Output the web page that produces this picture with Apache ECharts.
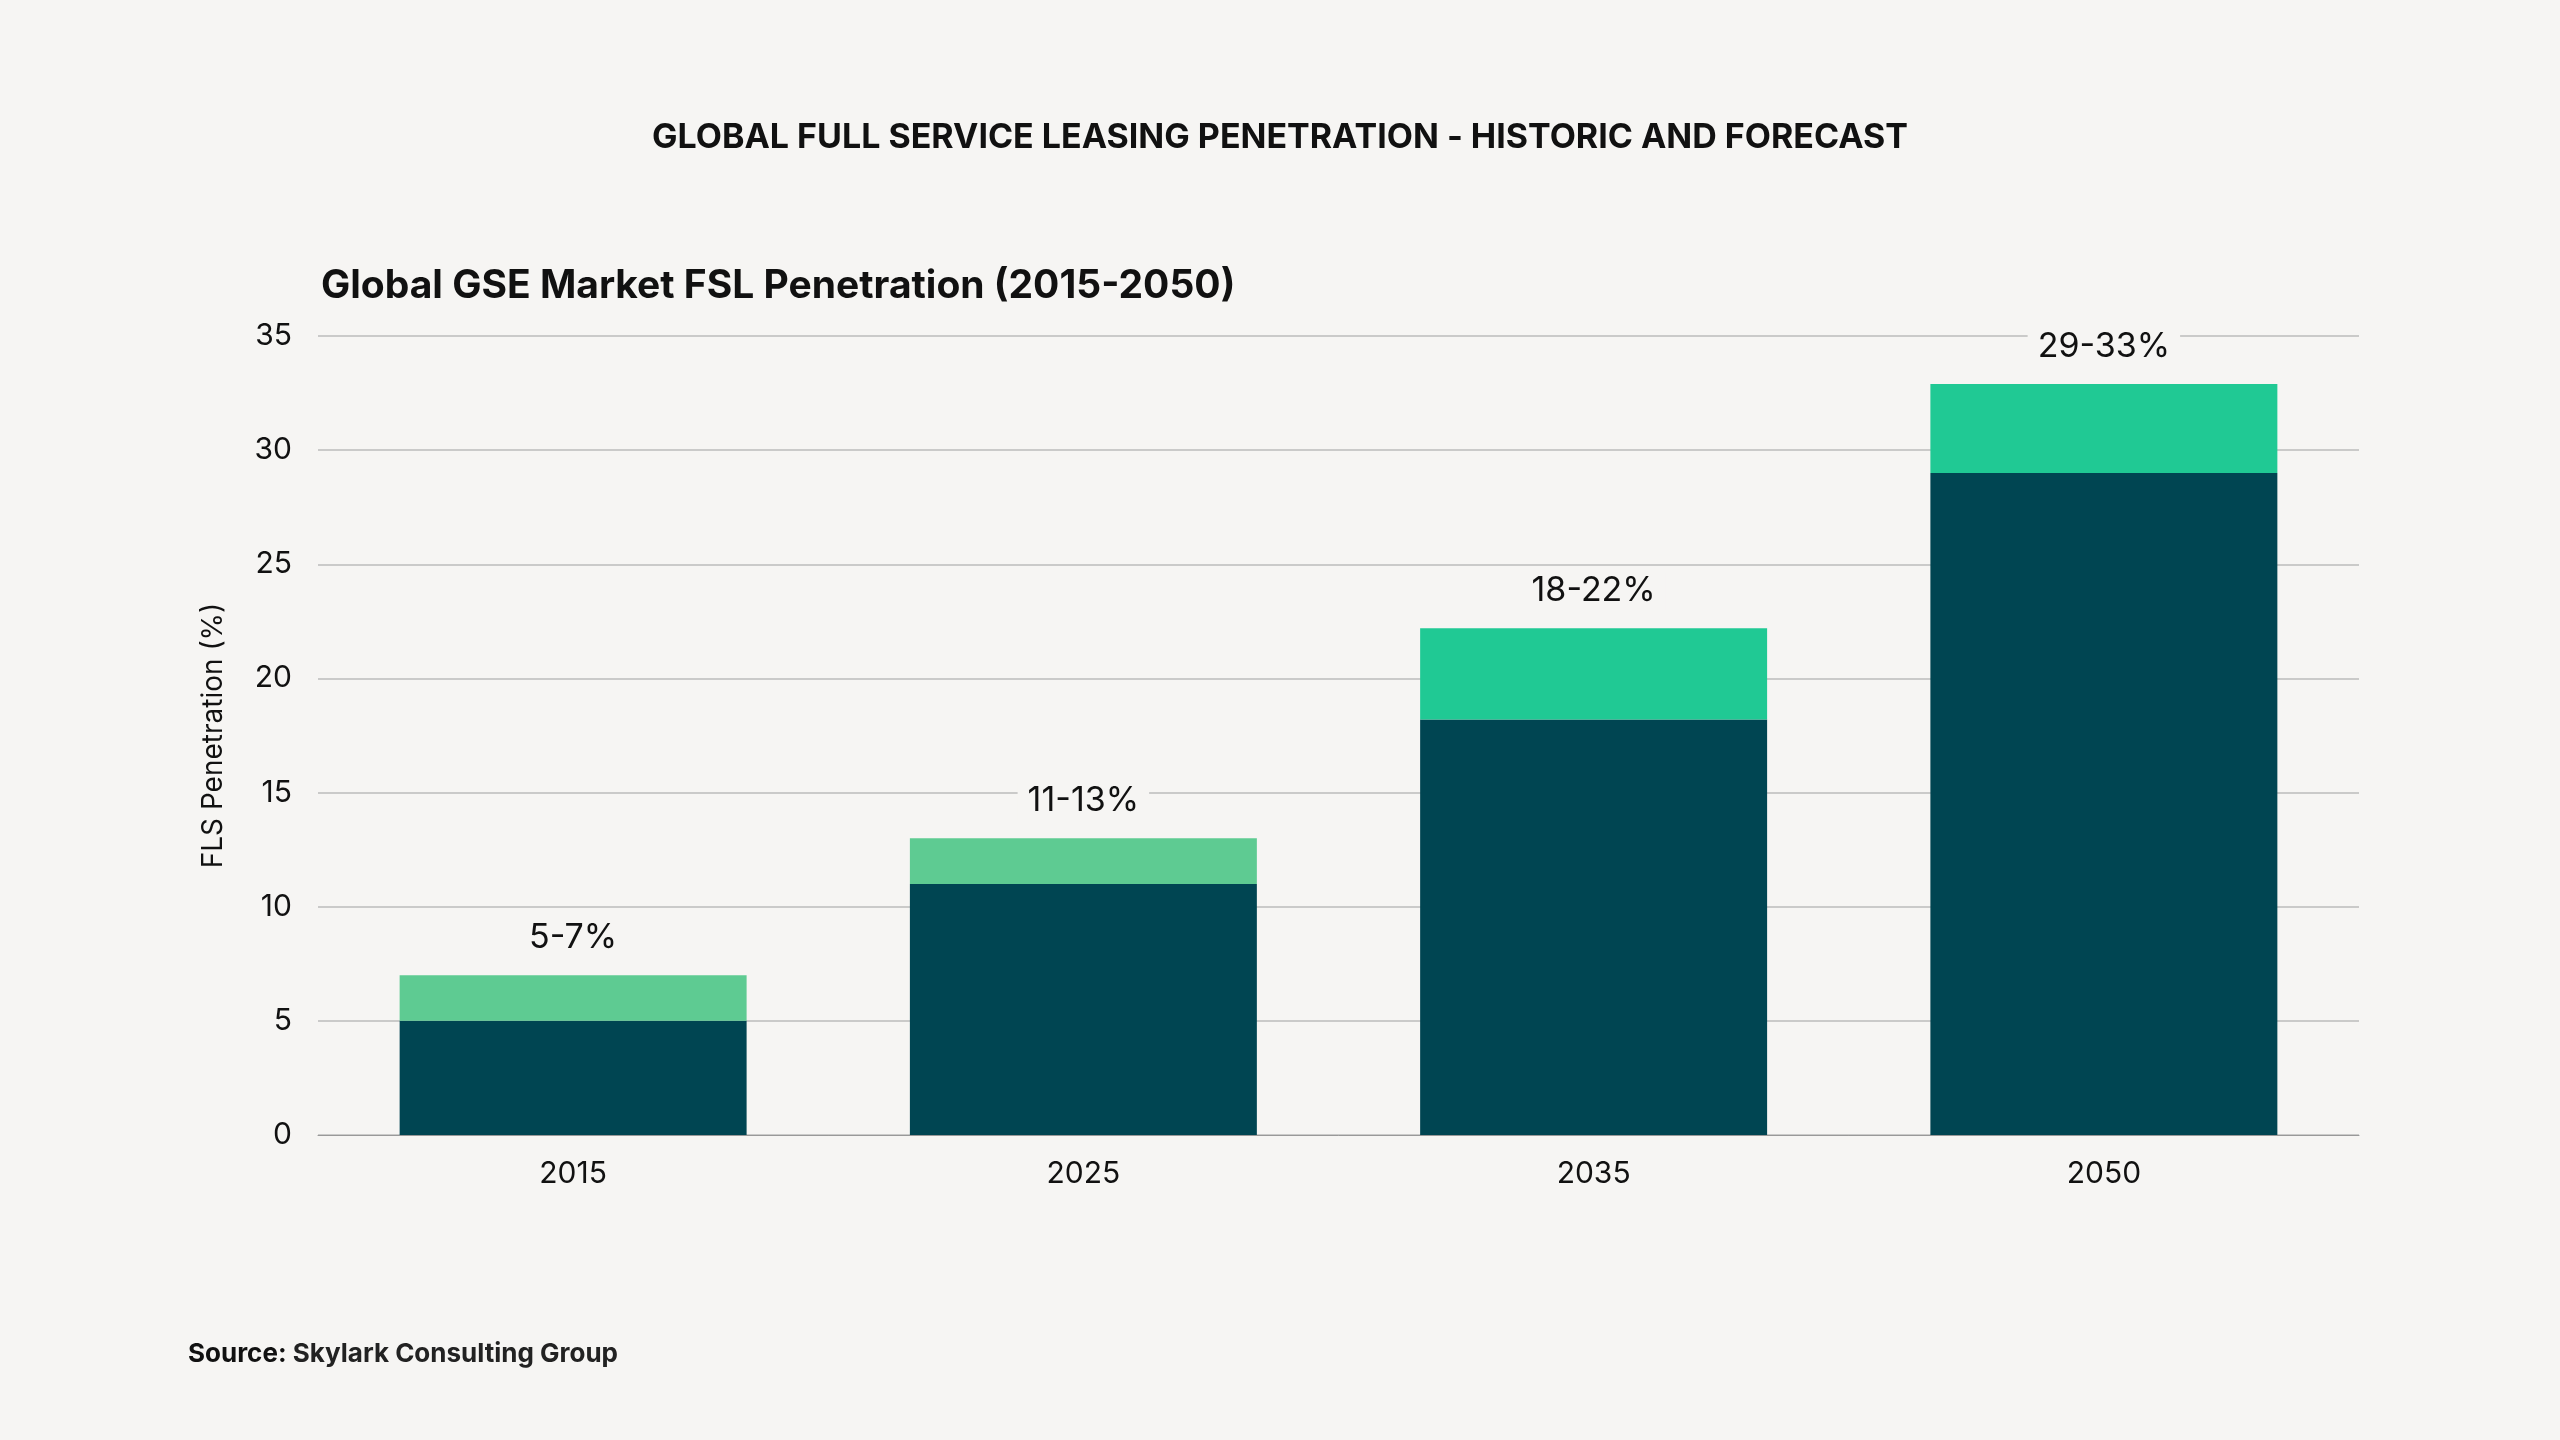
<!DOCTYPE html>
<html><head><meta charset="utf-8">
<script src="https://cdn.jsdelivr.net/npm/echarts@6/dist/echarts.min.js"></script>
<style>html,body{margin:0;padding:0;background:#f6f5f3}#c{width:2560px;height:1440px}</style>
</head><body><div id="c"></div>
<script>
const categories = ['2015','2025','2035','2050'];
const lowValues = [5, 11, 18.2, 29];
const rangeValues = [2, 2, 4, 3.9];
const rangeLabels = ['5-7%','11-13%','18-22%','29-33%'];
const rangeColors = ['#5ecb92','#5ecb92','#20c994','#20c994'];
const yTicks = [0,5,10,15,20,25,30,35];

const font = 'Inter, "Noto Sans", sans-serif';
const chart = echarts.init(document.getElementById('c'));
chart.setOption({
  backgroundColor: '#f6f5f3',
  textStyle: {fontFamily: font},
  title: [
    {text: 'GLOBAL FULL SERVICE LEASING PENETRATION - HISTORIC AND FORECAST', left: 'center', top: 116,
     textStyle: {fontSize: 34, fontWeight: 'bold', color: '#111', fontFamily: font}},
    {text: 'Global GSE Market FSL Penetration (2015-2050)', left: 316, top: 262,
     textStyle: {fontSize: 39, fontWeight: 'bold', color: '#111', fontFamily: font}},
    {text: '{b|Source:} Skylark Consulting Group', left: 183, top: 1336,
     textStyle: {fontSize: 26, color: '#222', fontFamily: font, rich: {b: {fontSize: 26, fontWeight: 'bold', color: '#111', fontFamily: font}}}}
  ],
  grid: {left: 318, right: 201, top: 336, bottom: 305},
  xAxis: {type: 'category', data: categories,
    axisLine: {lineStyle: {color: '#999'}}, axisTick: {show: false},
    axisLabel: {fontSize: 30, color: '#111', margin: 24}},
  yAxis: {type: 'value', min: 0, max: 35, interval: 5,
    name: 'FLS Penetration (%)', nameLocation: 'middle', nameGap: 90, nameRotate: 90,
    nameTextStyle: {fontSize: 28, color: '#111'},
    axisLine: {show: false}, axisTick: {show: false},
    axisLabel: {fontSize: 30, color: '#111', margin: 26,
      formatter: v => yTicks.includes(v) ? String(v) : ''},
    splitLine: {lineStyle: {color: '#bbb', width: 1.5}}},
  series: [
    {type: 'bar', stack: 's', data: lowValues, barWidth: '68%',
     itemStyle: {color: '#004552'}},
    {type: 'bar', stack: 's', barWidth: '68%',
     data: rangeValues.map((v,i) => ({value: v, itemStyle: {color: rangeColors[i]}})),
     label: {show: true, position: 'top', distance: 18, fontSize: 34, color: '#111',
       backgroundColor: '#f6f5f3', padding: [2,10],
       formatter: p => rangeLabels[p.dataIndex]}}
  ]
});
</script></body></html>
